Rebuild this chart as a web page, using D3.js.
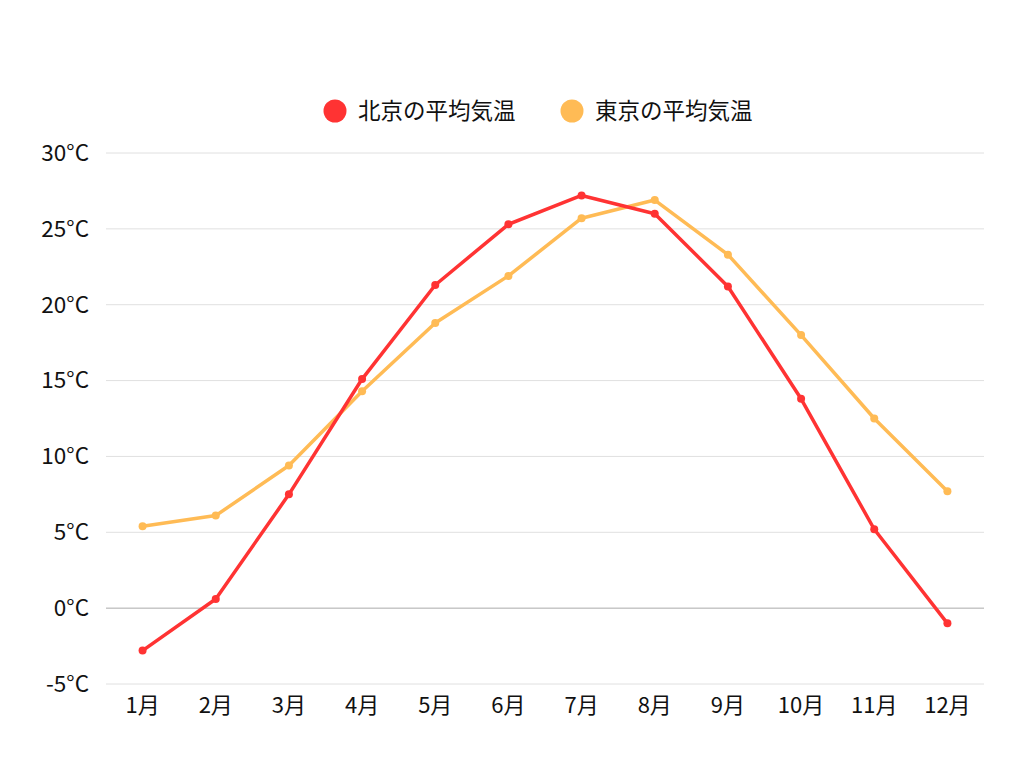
<!DOCTYPE html>
<html><head><meta charset="utf-8">
<script src="https://cdn.jsdelivr.net/npm/d3@7"></script>
<style>body{margin:0;background:#fff;} text{font-family:"Noto Sans CJK JP","Noto Sans",sans-serif;}</style>
</head><body><svg id="c" width="1024" height="768"></svg>
<script>
const months = ["1月","2月","3月","4月","5月","6月","7月","8月","9月","10月","11月","12月"];
const beijing = [-2.8,0.6,7.5,15.1,21.3,25.3,27.2,26.0,21.2,13.8,5.2,-1.0];
const tokyo = [5.4,6.1,9.4,14.3,18.8,21.9,25.7,26.9,23.3,18.0,12.5,7.7];
const yTicks = [-5,0,5,10,15,20,25,30];
const seriesNames = ["北京の平均気温","東京の平均気温"];
const colors = ["#ff3333","#ffbb55"];

const svg = d3.select("#c");
const x = d3.scaleBand().domain(months).range([106,984]);
const y = d3.scaleLinear().domain([-5,30]).range([684,153]);

const g = svg.append("g");
yTicks.forEach(t=>{
  g.append("line").attr("x1",106).attr("x2",984).attr("y1",y(t)).attr("y2",y(t))
   .attr("stroke", t===0 ? "#aaaaaa" : "#e0e0e0").attr("stroke-width",1);
  g.append("text").attr("x",89).attr("y",y(t)).attr("dy","0.35em").attr("text-anchor","end")
   .attr("font-size",22.5).attr("fill","#111").text(t+"°C");
});
months.forEach(m=>{
  g.append("text").attr("x",x(m)+x.bandwidth()/2).attr("y",705).attr("dy","0.35em")
   .attr("text-anchor","middle").attr("font-size",22).attr("fill","#111").text(m);
});

const line = d3.line().x((d,i)=>x(months[i])+x.bandwidth()/2).y(d=>y(d));
[tokyo, beijing].forEach((data,k)=>{
  const c = k===0 ? colors[1] : colors[0];
  svg.append("path").datum(data).attr("d",line).attr("fill","none").attr("stroke",c).attr("stroke-width",3.5).attr("stroke-linejoin","round");
  svg.selectAll(null).data(data).enter().append("circle")
    .attr("cx",(d,i)=>x(months[i])+x.bandwidth()/2).attr("cy",d=>y(d)).attr("r",4).attr("fill",c);
});

// legend
const leg = [{n:seriesNames[0],c:colors[0],x:335},{n:seriesNames[1],c:colors[1],x:572}];
leg.forEach(l=>{
  svg.append("circle").attr("cx",l.x).attr("cy",111).attr("r",11.5).attr("fill",l.c);
  svg.append("text").attr("x",l.x+23).attr("y",111).attr("dy","0.35em").attr("font-size",22.5).attr("fill","#111").text(l.n);
});
</script></body></html>
